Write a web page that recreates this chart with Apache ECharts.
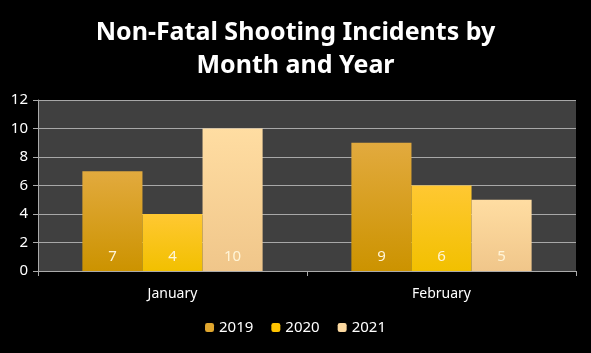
<!DOCTYPE html>
<html><head><meta charset="utf-8">
<script src="https://cdn.jsdelivr.net/npm/echarts@6/dist/echarts.min.js"></script>
<style>html,body{margin:0;padding:0;background:#000;}#c{width:591px;height:353px;}</style>
</head><body><div id="c"></div>
<script>
const categories = ['January', 'February'];
const seriesNames = ['2019', '2020', '2021'];
const values2019 = [7, 9];
const values2020 = [4, 6];
const values2021 = [10, 5];
const yTicks = [0, 2, 4, 6, 8, 10, 12];

const grads = [
  ['#E2AA3E', '#CC9300'],
  ['#FFC832', '#F2C000'],
  ['#FFDDA2', '#F0C68A']
];
const legendColors = ['#E0A62E', '#FFC400', '#FCD9A0'];
const allVals = [values2019, values2020, values2021];
const chart = echarts.init(document.getElementById('c'));
const font = 'Noto Sans, sans-serif';
chart.setOption({
  backgroundColor: '#000',
  animation: false,
  title: {
    text: 'Non-Fatal Shooting Incidents by\nMonth and Year',
    left: 'center', top: 11,
    textStyle: { color: '#fff', fontSize: 25, fontWeight: 'bold', fontFamily: font, lineHeight: 33 }
  },
  legend: {
    bottom: 13, left: 'center', itemWidth: 9, itemHeight: 9, itemGap: 18,
    textStyle: { color: '#fff', fontSize: 15, fontFamily: font },
    data: seriesNames.map((n, i) => ({ name: n, itemStyle: { color: legendColors[i] } }))
  },
  grid: { left: 38, right: 15, top: 100, bottom: 82, show: true, backgroundColor: '#404040', borderWidth: 0 },
  xAxis: {
    type: 'category', data: categories,
    axisLine: { lineStyle: { color: '#aaa' } },
    axisTick: { show: true, length: 5, lineStyle: { color: '#aaa' } },
    axisLabel: { color: '#fff', fontSize: 14, fontFamily: font, margin: 16 }
  },
  yAxis: {
    type: 'value', min: yTicks[0], max: yTicks[yTicks.length - 1], interval: 2,
    axisLine: { show: true, lineStyle: { color: '#aaa' } },
    axisTick: { show: true, length: 5, lineStyle: { color: '#aaa' } },
    splitLine: { lineStyle: { color: '#a8a8a8' } },
    axisLabel: { color: '#fff', fontSize: 15, fontFamily: font, margin: 10 }
  },
  series: seriesNames.map((n, i) => ({
    name: n, type: 'bar', data: allVals[i],
    barGap: '0%', barCategoryGap: '33%',
    itemStyle: { color: new echarts.graphic.LinearGradient(0, 0, 0, 1, [
      { offset: 0, color: grads[i][0] }, { offset: 1, color: grads[i][1] }]) },
    label: { show: true, position: 'insideBottom', distance: 7, color: '#FFF5D8', fontSize: 15, fontFamily: font }
  }))
});
</script></body></html>
